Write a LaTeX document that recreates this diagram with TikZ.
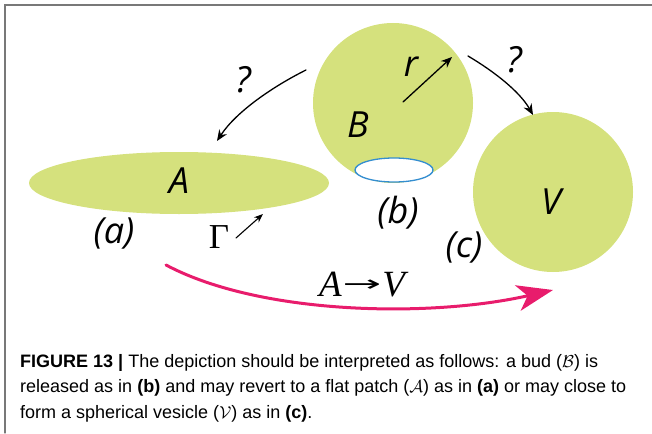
\documentclass[tikz,border=0pt]{standalone}
\usepackage{fontspec}
\usepackage{amsmath}
\usepackage{graphicx}
\usetikzlibrary{arrows.meta,shapes.geometric}
\newfontfamily\lblfont{Open Sans}
\newfontfamily\serfont{Liberation Serif}
\newfontfamily\arrfont{DejaVu Sans}
\newfontfamily\capfont{Liberation Sans}
\definecolor{budgreen}{RGB}{213,225,125}
\definecolor{rimblue}{RGB}{52,142,208}
\definecolor{pathpink}{RGB}{232,28,108}
\definecolor{framegray}{RGB}{120,120,120}

\begin{document}
\begin{tikzpicture}[x=1pt,y=-1pt,>={Stealth[length=11pt,width=9pt]},line cap=round,
  blob/.style={fill=budgreen,draw=none,inner sep=0pt},
  lbl/.style={font=\lblfont\itshape\fontsize{36}{36}\selectfont,inner sep=0pt},
  glbl/.style={font=\serfont\fontsize{35}{35}\selectfont,inner sep=0pt},
  qarrow/.style={->,black,line width=1.3pt},
  caprow/.style={anchor=base west,inner sep=0pt,font=\capfont\fontsize{18}{18}\selectfont}]
\useasboundingbox (0,0) rectangle (652,433);
\draw[framegray,line width=1.2pt] (652,5) -- (5,5) -- (5,433);
\node[blob,ellipse,minimum width=300pt,minimum height=62pt] (patch) at (179,183) {};
\node[blob,circle,minimum size=160pt] (bud) at (393,103) {};
\node[blob,circle,minimum size=160pt] (vesicle) at (553,192) {};
\node[ellipse,draw=rimblue,fill=white,line width=1.3pt,minimum width=78pt,minimum height=24pt,inner sep=0pt] (neck) at (394,170) {};
\node[lbl] (labA) at (179,181) {A};
\node[lbl] (labB) at (358,125) {B};
\node[lbl] (labV) at (551,202) {V};
\node[lbl] (labr) at (411,67) {r};
\node[lbl] (pa) at (114,233) {(a)};
\node[lbl] (pb) at (398,213) {(b)};
\node[lbl] (pc) at (464,247) {(c)};
\node[lbl] (q1) at (243,80) {?};
\node[lbl] (q2) at (514,60) {?};
\node[glbl] (gam) at (219,237) {Γ};
\node[glbl,font=\serfont\itshape\fontsize{37}{37}\selectfont] (avlab) at (362,285) {A\hspace{1pt}\raisebox{5pt}{\scalebox{2.1}[1]{\arrfont\fontsize{22}{22}\selectfont →}}\hspace{1pt}V};
\coordinate (q1s) at (306,70);
\coordinate (q1e) at (217,141);
\coordinate (q2s) at (468,56);
\coordinate (q2e) at (533,115);
\coordinate (rs) at (403,102);
\coordinate (re) at (452,57);
\coordinate (gs) at (236,238);
\coordinate (ge) at (263,214);
\coordinate (ps) at (166,265);
\coordinate (pe) at (553,290);
\draw[qarrow] (q1s) .. controls (272,87) and (236,112) .. (q1e);
\draw[qarrow] (q2s) .. controls (495,72) and (520,92) .. (q2e);
\draw[qarrow] (rs) -- (re);
\draw[->,black,line width=1.1pt,>={Stealth[length=9pt,width=7pt]}] (gs) -- (ge);
\draw[pathpink,line width=3pt,-{Stealth[length=36pt,width=26pt,inset=10pt]}] (ps) .. controls (260,315) and (430,318) .. (pe);
\node[caprow] (cap1) at (20,367) {\textbf{FIGURE 13 |} The depiction should be interpreted as follows: a bud ($\mathcal{B}$) is};
\node[caprow] (cap2) at (20,392) {released as in \textbf{(b)} and may revert to a flat patch ($\mathcal{A}$) as in \textbf{(a)} or may close to};
\node[caprow] (cap3) at (20,418) {form a spherical vesicle ($\mathcal{V}$) as in \textbf{(c)}.};
\end{tikzpicture}
\end{document}
